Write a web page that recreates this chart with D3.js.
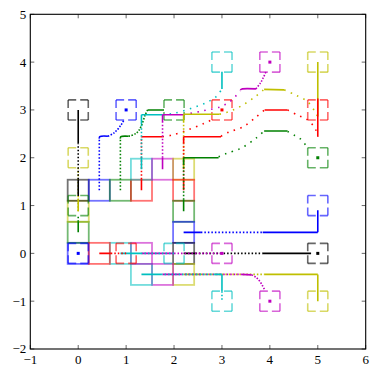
<!DOCTYPE html>
<html>
<head>
<meta charset="utf-8">
<script src="https://cdn.jsdelivr.net/npm/d3@7"></script>
<style>
  body { margin: 0; background: #fff; }
  svg { display: block; }
</style>
</head>
<body>
<div id="chart"></div>
<script>
// tick values
var xTicks = [-1, 0, 1, 2, 3, 4, 5, 6];
var yTicks = [-2, -1, 0, 1, 2, 3, 4, 5];

// solid squares: x, y, colour
var solidBoxes = [
  [0, 0, "b"], [0, 0.44, "g"], [0, 0.88, "y"], [0, 1.32, "k"],
  [0.44, 1.32, "b"], [0.88, 1.32, "g"], [1.32, 1.32, "r"],
  [1.32, 1.76, "c"], [1.76, 1.76, "m"], [2.2, 1.76, "y"],
  [2.2, 1.32, "r"], [2.2, 0.88, "g"], [2.2, 0.44, "b"], [2.2, 0, "k"],
  [2.2, -0.44, "y"], [1.76, -0.44, "m"], [1.32, -0.44, "c"],
  [1.32, 0, "m"], [0.88, 0, "c"], [0.44, 0, "r"]
];

// dashed target squares: x, y, colour
var dashedBoxes = [
  [0, 3, "k"], [0, 2, "y"], [0, 1, "g"], [0, 0, "b"],
  [1, 3, "b"], [2, 3, "g"], [3, 3, "r"],
  [3, 4, "c"], [4, 4, "m"], [5, 4, "y"],
  [5, 3, "r"], [5, 2, "g"], [5, 1, "b"], [5, 0, "k"],
  [5, -1, "y"], [4, -1, "m"], [3, -1, "c"],
  [3, 0, "m"], [2, 0, "c"], [1, 0, "r"]
];

// centre dots of some targets
var targetDots = [
  [0, 0, "b"], [1, 3, "b"], [3, 3, "r"], [4, 4, "m"],
  [5, 2, "g"], [5, 0, "k"], [4, -1, "m"], [3, 0, "m"]
];

// connector pieces: colour, style (S solid, d dots, e dense dots, D sparse dots), points x,y,...
var links = [
  ["y", "d", 0, 0.88, 0, 1.8],
  ["y", "S", 0, 0.88, 0, 1.15],
  ["g", "S", 0, 0.44, 0, 0.66],
  ["g", "d", 0, 0.66, 0, 0.8],
  ["k", "S", 0, 1.2, 0, 1.55],
  ["k", "d", 0, 1.55, 0, 2.3],
  ["k", "S", 0, 2.3, 0, 3.0],

  ["b", "d", 0.44, 1.32, 0.44, 2.4],
  ["b", "S", 0.44, 2.4, 0.45, 2.44, 0.62, 2.45],
  ["b", "e", 0.62, 2.45, 0.75, 2.52, 0.89, 2.68, 0.96, 2.8],

  ["g", "d", 0.88, 1.32, 0.88, 2.4],
  ["g", "S", 0.88, 2.4, 0.89, 2.44, 1.05, 2.45],
  ["g", "e", 1.05, 2.45, 1.21, 2.51, 1.31, 2.65, 1.4, 2.9, 1.45, 3.0],
  ["g", "S", 1.45, 3.0, 1.79, 3.0],

  ["r", "S", 1.32, 1.32, 1.32, 1.55],
  ["r", "d", 1.32, 1.55, 1.32, 2.44],
  ["r", "S", 1.32, 2.44, 1.76, 2.44],
  ["r", "D", 1.76, 2.44, 1.94, 2.47, 2.28, 2.58, 2.63, 2.72, 2.84, 2.82],

  ["c", "S", 1.32, 1.76, 1.32, 2.0],
  ["c", "d", 1.32, 2.0, 1.32, 2.7],
  ["c", "S", 1.32, 2.7, 1.32, 2.9],
  ["c", "S", 1.32, 2.9, 1.76, 2.9],
  ["c", "D", 1.76, 2.9, 2.0, 2.93, 2.35, 3.03, 2.67, 3.15, 2.88, 3.28, 3.0, 3.44],
  ["c", "S", 3.0, 3.44, 3.0, 3.8],

  ["m", "S", 1.76, 1.76, 1.76, 2.0],
  ["m", "d", 1.76, 2.0, 1.76, 2.75],
  ["m", "S", 1.76, 2.75, 1.76, 2.9],
  ["m", "S", 1.76, 2.9, 2.2, 2.9],
  ["m", "D", 2.2, 2.9, 2.6, 2.98, 2.98, 3.07, 3.2, 3.2, 3.38, 3.4],
  ["m", "S", 3.38, 3.42, 3.43, 3.44, 3.71, 3.44],
  ["m", "e", 3.71, 3.44, 3.8, 3.56, 3.86, 3.67, 3.92, 3.8],

  ["y", "S", 2.2, 1.76, 2.2, 2.0],
  ["y", "d", 2.2, 2.0, 2.2, 2.75],
  ["y", "S", 2.2, 2.75, 2.2, 2.91],
  ["y", "S", 2.2, 2.91, 2.95, 2.91],
  ["y", "D", 2.95, 2.91, 3.19, 2.98, 3.43, 3.1, 3.71, 3.29, 3.88, 3.43],
  ["y", "S", 3.88, 3.43, 4.3, 3.42],
  ["y", "D", 4.3, 3.42, 4.54, 3.31, 4.79, 3.17, 4.95, 2.95, 5.0, 2.86],
  ["y", "S", 5.0, 2.86, 5.0, 4.0],

  ["r", "S", 2.2, 1.32, 2.2, 1.55],
  ["r", "d", 2.2, 1.55, 2.2, 2.3],
  ["r", "S", 2.2, 2.3, 2.2, 2.44],
  ["r", "S", 2.2, 2.44, 2.98, 2.44],
  ["r", "D", 2.98, 2.45, 3.15, 2.54, 3.43, 2.64, 3.71, 2.85, 3.89, 3.0],
  ["r", "S", 3.89, 3.0, 4.37, 3.0],
  ["r", "D", 4.37, 3.0, 4.58, 2.89, 4.79, 2.79, 4.95, 2.6, 5.0, 2.44],
  ["r", "S", 5.0, 2.44, 5.0, 3.24],

  ["g", "S", 2.2, 0.88, 2.2, 1.12],
  ["g", "d", 2.2, 1.12, 2.2, 1.85],
  ["g", "S", 2.2, 1.85, 2.2, 2.0],
  ["g", "S", 2.2, 2.0, 2.93, 2.0],
  ["g", "D", 2.93, 2.02, 3.09, 2.09, 3.4, 2.2, 3.71, 2.41, 3.88, 2.56],
  ["g", "S", 3.88, 2.56, 4.37, 2.56],
  ["g", "D", 4.37, 2.55, 4.51, 2.47, 4.62, 2.41, 4.72, 2.3, 4.79, 2.21],

  ["b", "S", 2.2, 0.44, 2.56, 0.44],
  ["b", "d", 2.56, 0.44, 3.85, 0.44],
  ["b", "S", 3.85, 0.44, 5.0, 0.44],
  ["b", "S", 5.0, 0.44, 5.0, 0.9],

  ["k", "S", 2.2, 0, 2.45, 0],
  ["k", "d", 2.45, 0, 3.85, 0],
  ["k", "S", 3.85, 0, 4.86, 0],

  ["y", "S", 2.2, -0.44, 2.56, -0.44],
  ["y", "d", 2.56, -0.44, 3.88, -0.44],
  ["y", "S", 3.88, -0.44, 5.0, -0.44],
  ["y", "S", 5.0, -0.44, 5.0, -1.0],

  ["m", "S", 1.76, -0.44, 2.15, -0.44],
  ["m", "d", 2.15, -0.44, 3.4, -0.44],
  ["m", "S", 3.4, -0.44, 3.62, -0.45],
  ["m", "e", 3.62, -0.45, 3.71, -0.5, 3.8, -0.6, 3.9, -0.78],

  ["c", "S", 1.32, -0.44, 1.73, -0.44],
  ["c", "d", 1.73, -0.44, 2.85, -0.44],
  ["c", "S", 2.85, -0.44, 3.0, -0.44],
  ["c", "S", 3.0, -0.44, 3.0, -0.79],
  ["c", "d", 3.0, -0.79, 3.0, -1.0],

  ["m", "S", 1.32, 0, 2.0, 0],
  ["m", "d", 2.0, 0, 3.0, 0],
  ["c", "S", 0.88, 0, 1.31, 0],
  ["c", "d", 1.31, 0, 2.0, 0],
  ["r", "S", 0.44, 0, 0.68, 0],
  ["r", "d", 0.68, 0, 1.0, 0]
];

var colours = { b: "#0000ff", g: "#008000", r: "#ff0000", c: "#00bfbf", m: "#bf00bf", y: "#bfbf00", k: "#000000" };
var dashes = { S: null, d: "1.5 2", e: "1.5 1.5", D: "1.5 5.5" };
var labelFont = "'Liberation Serif', 'Times New Roman', 'DejaVu Serif', serif";

var svgWidth = 376, svgHeight = 374;
var margin = { top: 14.3, right: 10.3, bottom: 25, left: 30.3 };
var width = svgWidth - margin.left - margin.right;
var height = svgHeight - margin.top - margin.bottom;

var svg = d3.select("#chart").append("svg")
  .attr("width", svgWidth)
  .attr("height", svgHeight);

var chartGroup = svg.append("g")
  .attr("transform", `translate(${margin.left}, ${margin.top})`);

var x = d3.scaleLinear().domain([-1, 6]).range([0, width]);
var y = d3.scaleLinear().domain([-2, 5]).range([height, 0]);

chartGroup.append("clipPath").attr("id", "plotclip")
  .append("rect").attr("width", width).attr("height", height);

var plot = chartGroup.append("g").attr("clip-path", "url(#plotclip)");

// solid squares
var hs = 0.22;
plot.selectAll(".sbox").data(solidBoxes).enter().append("rect")
  .attr("class", "sbox")
  .attr("x", d => x(d[0] - hs))
  .attr("y", d => y(d[1] + hs))
  .attr("width", d => x(d[0] + hs) - x(d[0] - hs))
  .attr("height", d => y(d[1] - hs) - y(d[1] + hs))
  .attr("fill", "none")
  .attr("stroke", d => colours[d[2]])
  .attr("stroke-opacity", 0.55)
  .attr("stroke-width", 1.8);

// dashed squares, drawn side by side so every corner keeps its bracket
var hd = 0.21;
dashedBoxes.forEach(function(d) {
  var x0 = x(d[0] - hd), x1 = x(d[0] + hd), y0 = y(d[1] + hd), y1 = y(d[1] - hd);
  var sides = [[x0, y0, x1, y0], [x1, y0, x1, y1], [x1, y1, x0, y1], [x0, y1, x0, y0]];
  sides.forEach(function(s) {
    var len = Math.hypot(s[2] - s[0], s[3] - s[1]);
    var gap = 4;
    plot.append("line")
      .attr("x1", s[0]).attr("y1", s[1]).attr("x2", s[2]).attr("y2", s[3])
      .attr("stroke", colours[d[2]])
      .attr("stroke-opacity", 0.6)
      .attr("stroke-width", 1.6)
      .attr("stroke-dasharray", `${(len - gap) / 2} ${gap}`);
  });
});

// connectors
var line = d3.line()
  .x(p => x(p[0]))
  .y(p => y(p[1]))
  .curve(d3.curveCatmullRom.alpha(0.5));

links.forEach(function(l) {
  var pts = [];
  for (var i = 2; i < l.length; i += 2) pts.push([l[i], l[i + 1]]);
  plot.append("path")
    .attr("d", line(pts))
    .attr("fill", "none")
    .attr("stroke", colours[l[0]])
    .attr("stroke-width", 1.6)
    .attr("stroke-dasharray", dashes[l[1]]);
});

// centre dots
plot.selectAll(".tdot").data(targetDots).enter().append("rect")
  .attr("class", "tdot")
  .attr("x", d => x(d[0]) - 1.5)
  .attr("y", d => y(d[1]) - 1.5)
  .attr("width", 3).attr("height", 3)
  .attr("fill", d => colours[d[2]]);

// frame
chartGroup.append("rect")
  .attr("width", width).attr("height", height)
  .attr("fill", "none")
  .attr("stroke", "#000")
  .attr("stroke-width", 1.1);

// inward ticks on all four sides
var tl = 4;
function fmt(t) { return t < 0 ? "\u2212" + Math.abs(t) : String(t); }

xTicks.forEach(function(t) {
  chartGroup.append("line").attr("x1", x(t)).attr("x2", x(t)).attr("y1", height).attr("y2", height - tl)
    .attr("stroke", "#000").attr("stroke-width", 0.6);
  chartGroup.append("line").attr("x1", x(t)).attr("x2", x(t)).attr("y1", 0).attr("y2", tl)
    .attr("stroke", "#000").attr("stroke-width", 0.6);
  chartGroup.append("text")
    .attr("x", x(t)).attr("y", height + 15)
    .attr("text-anchor", "middle")
    .attr("font-family", labelFont)
    .attr("font-size", 13)
    .attr("fill", "#000")
    .text(fmt(t));
});
yTicks.forEach(function(t) {
  chartGroup.append("line").attr("y1", y(t)).attr("y2", y(t)).attr("x1", 0).attr("x2", tl)
    .attr("stroke", "#000").attr("stroke-width", 0.6);
  chartGroup.append("line").attr("y1", y(t)).attr("y2", y(t)).attr("x1", width).attr("x2", width - tl)
    .attr("stroke", "#000").attr("stroke-width", 0.6);
  chartGroup.append("text")
    .attr("x", -4).attr("y", y(t) + 4.5)
    .attr("text-anchor", "end")
    .attr("font-family", labelFont)
    .attr("font-size", 13)
    .attr("fill", "#000")
    .text(fmt(t));
});
</script>
</body>
</html>
